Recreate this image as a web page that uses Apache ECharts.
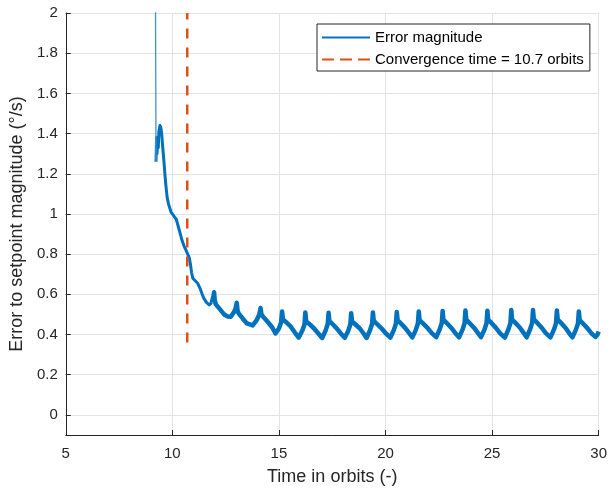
<!DOCTYPE html>
<html>
<head>
<meta charset="utf-8">
<script src="https://cdn.jsdelivr.net/npm/echarts@6/dist/echarts.min.js"></script>
<style>
html,body{margin:0;padding:0;background:#fff;}
#chart{width:610px;height:492px;}
</style>
</head>
<body>
<div id="chart"></div>
<script>
// ---- data ----
const convergenceTime = 10.7;
const convergenceSpan = [0.36, 2.0];

// initial fast transient (thin trace)
const startTime  = [9.2, 9.215, 9.235];
const startValue = [2.4, 1.9, 1.26];

// transient decay (orbits, deg/s)
const decayTime = [
  9.235, 9.26, 9.28, 9.31, 9.34, 9.37, 9.42, 9.46, 9.5, 9.55, 9.6, 9.65, 9.7, 9.76, 9.82, 9.88, 9.94, 10.0,
  10.1, 10.18, 10.3, 10.45, 10.55, 10.64, 10.72, 10.8, 10.85, 10.9, 10.96, 11.05, 11.19, 11.3, 11.4, 11.48,
  11.6, 11.73, 11.85
];
const decayValue = [
  1.26, 1.38, 1.30, 1.36, 1.33, 1.41, 1.44, 1.43, 1.40, 1.33, 1.27, 1.20, 1.14, 1.08, 1.05, 1.03, 1.01, 1.0,
  0.985, 0.975, 0.93, 0.87, 0.84, 0.82, 0.80, 0.78, 0.75, 0.71, 0.68, 0.67, 0.655, 0.63, 0.60, 0.58,
  0.56, 0.547, 0.56
];

// periodic steady-state error (orbits, deg/s)
const errTime = [
  11.85, 11.93, 11.96, 11.99, 12.04, 12.2, 12.43, 12.6, 12.74, 12.88, 12.97, 13.02, 13.06, 13.1,
  13.3, 13.5, 13.77, 13.95, 14.08, 14.14, 14.18, 14.25, 14.5, 14.69, 14.84, 15.0, 15.1, 15.15, 15.19, 15.3,
  15.55, 15.75, 15.93, 16.1, 16.2, 16.24, 16.28, 16.4, 16.65, 16.85,
  17.03, 17.19, 17.29, 17.33, 17.37, 17.48, 17.73, 17.93,
  18.09, 18.25, 18.35, 18.39, 18.43, 18.54, 18.8, 18.98,
  19.11, 19.27, 19.37, 19.41, 19.45, 19.56, 19.82, 20.02,
  20.23, 20.39, 20.49, 20.53, 20.57, 20.68, 20.93, 21.12,
  21.26, 21.42, 21.52, 21.56, 21.6, 21.71, 21.97, 22.17,
  22.38, 22.54, 22.64, 22.68, 22.72, 22.83, 23.08, 23.27,
  23.45, 23.61, 23.71, 23.75, 23.79, 23.9, 24.15, 24.34,
  24.48, 24.64, 24.74, 24.78, 24.82, 24.93, 25.18, 25.38,
  25.6, 25.76, 25.86, 25.9, 25.94, 26.05, 26.3, 26.48,
  26.62, 26.78, 26.88, 26.92, 26.96, 27.07, 27.32, 27.52,
  27.74, 27.9, 28.0, 28.04, 28.08, 28.19, 28.44, 28.62,
  28.77, 28.93, 29.03, 29.07, 29.11, 29.22, 29.47, 29.67,
  29.85, 29.95, 30.0
];
const errValue = [
  0.56, 0.59, 0.61, 0.57, 0.55, 0.53, 0.50, 0.49, 0.488, 0.51, 0.53, 0.558, 0.52, 0.507,
  0.48, 0.455, 0.445, 0.47, 0.50, 0.532, 0.50, 0.49, 0.46, 0.435, 0.405, 0.43, 0.46, 0.515, 0.475, 0.465,
  0.44, 0.41, 0.385, 0.42, 0.45, 0.51, 0.465, 0.455, 0.43, 0.405,
  0.383, 0.42, 0.452, 0.508, 0.466, 0.456, 0.428, 0.402,
  0.384, 0.418, 0.45, 0.506, 0.465, 0.455, 0.43, 0.404,
  0.383, 0.42, 0.452, 0.51, 0.468, 0.457, 0.43, 0.405,
  0.385, 0.422, 0.455, 0.512, 0.47, 0.46, 0.432, 0.406,
  0.386, 0.422, 0.455, 0.515, 0.472, 0.46, 0.433, 0.407,
  0.387, 0.425, 0.457, 0.517, 0.473, 0.462, 0.434, 0.408,
  0.386, 0.423, 0.456, 0.52, 0.474, 0.462, 0.434, 0.407,
  0.387, 0.424, 0.456, 0.518, 0.472, 0.462, 0.433, 0.406,
  0.385, 0.424, 0.457, 0.522, 0.474, 0.463, 0.435, 0.408,
  0.386, 0.425, 0.458, 0.522, 0.475, 0.464, 0.435, 0.407,
  0.386, 0.424, 0.457, 0.52, 0.474, 0.463, 0.434, 0.406,
  0.386, 0.423, 0.455, 0.515, 0.472, 0.46, 0.432, 0.405,
  0.388, 0.40, 0.415
];

const xTicks = [5, 30, 5];         // min, max, step
const yRange = [-0.1, 2];

const errName = 'Error magnitude';
const convName = 'Convergence time = ' + convergenceTime + ' orbits';

// ---- build ----
const zip = (a, b) => a.map((v, i) => [v, b[i]]);
const FONT = "'Liberation Sans', Arial, Helvetica, sans-serif";
const AX = '#262626';
const BLUE = '#0072BD';

const chart = echarts.init(document.getElementById('chart'), null, {renderer: 'canvas'});
chart.setOption({
  animation: false,
  backgroundColor: '#fff',
  textStyle: {fontFamily: FONT},
  grid: {left: 64, right: 10, top: 13, bottom: 57, containLabel: false},
  legend: {
    orient: 'vertical',
    left: 317, top: 24,
    itemWidth: 48, itemHeight: 14, itemGap: 7,
    padding: [6, 6, 4, 4],
    borderColor: AX, borderWidth: 1,
    backgroundColor: '#fff',
    textStyle: {fontFamily: FONT, fontSize: 15, color: '#000'},
    itemStyle: {opacity: 0},
    data: [
      {name: errName, lineStyle: {width: 2}, itemStyle: {opacity: 0}},
      {name: convName, lineStyle: {width: 2, type: [12, 6]}, itemStyle: {opacity: 0}}
    ]
  },
  xAxis: {
    type: 'value',
    min: xTicks[0], max: xTicks[1], interval: xTicks[2],
    name: 'Time in orbits (-)',
    nameLocation: 'middle', nameGap: 33,
    nameTextStyle: {fontFamily: FONT, fontSize: 18, color: AX},
    axisLine: {show: true, onZero: false, lineStyle: {color: AX, width: 1}},
    axisTick: {show: true, inside: true, length: 5, lineStyle: {color: AX}},
    axisLabel: {fontFamily: FONT, fontSize: 15, color: AX, margin: 11},
    splitLine: {show: true, lineStyle: {color: '#e3e3e3', width: 1}}
  },
  yAxis: {
    type: 'value',
    min: yRange[0], max: yRange[1], splitNumber: 10,
    name: 'Error to setpoint magnitude (°/s)',
    nameLocation: 'middle', nameGap: 33,
    nameTextStyle: {fontFamily: FONT, fontSize: 18, color: AX},
    axisLine: {show: true, onZero: false, lineStyle: {color: AX, width: 1}},
    axisTick: {show: true, inside: true, length: 5, lineStyle: {color: AX}},
    axisLabel: {fontFamily: FONT, fontSize: 15, color: AX, margin: 8, showMinLabel: false},
    splitLine: {show: true, lineStyle: {color: '#e3e3e3', width: 1}}
  },
  series: [
    {
      name: errName, type: 'line', data: zip(errTime, errValue),
      showSymbol: false, symbol: 'none', clip: true,
      lineStyle: {color: BLUE, width: 4.5, join: 'round'},
      itemStyle: {color: BLUE}, z: 2
    },
    {
      name: errName, type: 'line', data: zip(decayTime, decayValue),
      showSymbol: false, symbol: 'none', clip: true,
      lineStyle: {color: BLUE, width: 3, join: 'round'},
      itemStyle: {color: BLUE}, z: 2
    },
    {
      name: errName, type: 'line', data: zip(startTime, startValue),
      showSymbol: false, symbol: 'none', clip: true,
      lineStyle: {color: '#3d93d1', width: 1.3},
      itemStyle: {color: BLUE}, z: 2
    },
    {
      name: convName, type: 'line',
      data: [[convergenceTime, convergenceSpan[0]], [convergenceTime, convergenceSpan[1]]],
      showSymbol: false, symbol: 'none',
      lineStyle: {color: '#D95319', width: 2.5, type: [10, 9]},
      itemStyle: {color: '#D95319'}, z: 3
    }
  ]
});
</script>
</body>
</html>
